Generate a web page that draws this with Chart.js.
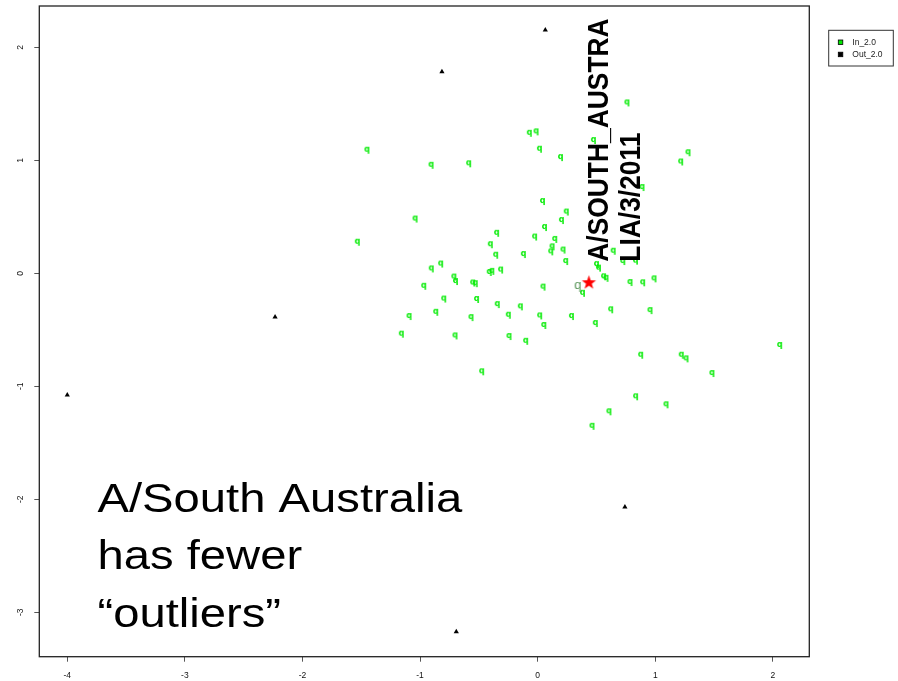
<!DOCTYPE html>
<html>
<head>
<meta charset="utf-8">
<script src="https://cdn.jsdelivr.net/npm/chart.js@4"></script>
<style>
  body { margin: 0; background: #fff; }
  #wrap { width: 898px; height: 681px; position: relative; }
</style>
</head>
<body>
<div id="wrap"><canvas id="grafico"></canvas></div>
<script>
// Pontos "In_2.0" (verdes)
const inX = [-1.452, -0.907, -0.587, -0.071, -0.014, 0.015, 0.194, 0.041, 0.243, 0.202,
  0.058, -0.026, 0.145, 0.122, 0.111, 0.215, 0.238, -1.043, -1.534, -0.349,
  -0.403, -0.357, -0.122, -0.825, -0.905, -0.713, -0.699, -0.969, -0.412, -0.390,
  -0.315, -0.553, -0.531, 0.045, -0.799, -0.520, -0.344, -0.148, -1.094, -0.867,
  -0.567, -0.250, 0.017, 0.052, 0.287, -1.160, -0.703, -0.244, -0.102, -0.476,
  0.381, 0.490, 0.500, 0.517, 0.560, 0.581, 0.785, 0.893, 0.989, 0.724,
  0.832, 0.621, 0.955, 0.876, 1.221, 1.261, 1.482, 2.058, 0.833, 1.091,
  0.606, 0.462, 0.759, 0.474, 1.216, 1.278, 0.887, 0.642];
const inY = [1.085, 0.952, 0.965, 1.235, 1.248, 1.094, 1.020, 0.631, 0.538, 0.463,
  0.401, 0.317, 0.296, 0.230, 0.186, 0.202, 0.100, 0.476, 0.271, 0.350,
  0.249, 0.156, 0.162, 0.078, 0.035, -0.037, -0.077, -0.119, 0.003, 0.013,
  0.025, -0.090, -0.096, -0.126, -0.232, -0.236, -0.281, -0.301, -0.387, -0.349,
  -0.396, -0.375, -0.381, -0.466, -0.387, -0.543, -0.558, -0.564, -0.606, -0.876,
  -0.181, -0.449, 0.073, 0.042, -0.035, -0.048, -0.086, -0.088, -0.053, 0.100,
  0.104, -0.327, -0.334, -0.729, -0.729, -0.761, -0.891, -0.643, -1.097, -1.168,
  -1.230, -1.358, 1.504, 1.171, 0.981, 1.063, 0.755, 0.191];

// Pontos "Out_2.0" (pretos)
const outX = [0.065, -0.814, -2.233, -4.0, 0.742, -0.692];
const outY = [2.153, 1.784, -0.387, -1.077, -2.069, -3.172];

// Cepa de referência (estrela) e ponto destacado
const refX = [0.436];
const refY = [-0.083];
const selX = [0.340];
const selY = [-0.112];

const xTicks = [-4, -3, -2, -1, 0, 1, 2];
const yTicks = [-3, -2, -1, 0, 1, 2];

const legendaNomes = ['In_2.0', 'Out_2.0'];
const legendaCores = ['#00e600', '#000000'];
const rotuloRef = ['A/SOUTH_AUSTRA', 'LIA/3/2011'];
const textoNota = ['A/South Australia', 'has fewer', '\u201Coutliers\u201D'];

const FONTE = '"Liberation Sans", Arial, sans-serif';

function pares(xs, ys) {
    return xs.map((x, i) => ({ x: x, y: ys[i] }));
}

// Glifo "q" usado como marcador
function glifo(ch, font, cor, w, h) {
    const c = document.createElement('canvas');
    c.width = w; c.height = h;
    const g = c.getContext('2d');
    g.font = font;
    g.fillStyle = cor;
    g.textAlign = 'center';
    g.textBaseline = 'middle';
    g.fillText(ch, w / 2, h / 2 - 1);
    return c;
}

function estrela(r, cor) {
    const s = Math.ceil(r * 2) + 2;
    const c = document.createElement('canvas');
    c.width = s; c.height = s;
    const g = c.getContext('2d');
    g.fillStyle = cor;
    g.beginPath();
    for (let i = 0; i < 10; i++) {
        const ang = -Math.PI / 2 + i * Math.PI / 5;
        const rr = i % 2 === 0 ? r : r * 0.4;
        g.lineTo(s / 2 + rr * Math.cos(ang), s / 2 + rr * Math.sin(ang));
    }
    g.closePath();
    g.fill();
    return c;
}

const marcadorIn = glifo('q', 'bold 8px "DejaVu Sans", sans-serif', 'rgb(0,235,0)', 9, 10);
const marcadorSel = glifo('q', '13px ' + FONTE, 'rgb(90,150,90)', 10, 14);
const marcadorRef = estrela(7.5, '#ff0000');

// Caixa do gráfico, rótulos do eixo y, legenda e textos
const extras = {
    id: 'extras',
    afterDatasetsDraw(chart) {
        const ctx = chart.ctx;
        const a = chart.chartArea;
        const sx = chart.scales.x, sy = chart.scales.y;
        ctx.save();

        // caixa
        ctx.strokeStyle = '#222';
        ctx.lineWidth = 1.3;
        ctx.strokeRect(a.left, a.top, a.right - a.left, a.bottom - a.top);

        // rótulos do eixo y (girados, estilo R)
        ctx.fillStyle = '#111';
        ctx.font = '8.5px ' + FONTE;
        ctx.textAlign = 'center';
        ctx.textBaseline = 'middle';
        yTicks.forEach(v => {
            ctx.save();
            ctx.translate(21, sy.getPixelForValue(v));
            ctx.rotate(-Math.PI / 2);
            ctx.fillText(String(v), 0, 0);
            ctx.restore();
        });

        // rótulo rotacionado junto à estrela
        const px = sx.getPixelForValue(refX[0]);
        const py = sy.getPixelForValue(refY[0]);
        ctx.fillStyle = '#000';
        ctx.font = 'bold 26.4px ' + FONTE;
        ctx.textAlign = 'left';
        ctx.textBaseline = 'alphabetic';
        rotuloRef.forEach((linha, i) => {
            ctx.save();
            ctx.translate(px + 19.5 + i * 32, py - 21);
            ctx.scale(1.1, 1);
            ctx.rotate(-Math.PI / 2);
            ctx.fillText(linha, 0, 0);
            ctx.restore();
        });

        // texto grande
        ctx.font = '40px ' + FONTE;
        textoNota.forEach((linha, i) => {
            ctx.save();
            ctx.translate(97.5, 511.7 + i * 57.5);
            ctx.scale(1.18, 1);
            ctx.fillText(linha, 0, 0);
            ctx.restore();
        });

        // legenda
        const lx = 828.7, ly = 30.3;
        ctx.fillStyle = '#fff';
        ctx.fillRect(lx, ly, 64.6, 35.7);
        ctx.strokeStyle = '#333';
        ctx.lineWidth = 1;
        ctx.strokeRect(lx, ly, 64.6, 35.7);
        ctx.font = '8.5px ' + FONTE;
        ctx.textBaseline = 'middle';
        legendaNomes.forEach((nome, i) => {
            const yy = 42.2 + i * 12.2;
            ctx.fillStyle = legendaCores[i];
            ctx.fillRect(838.3, yy - 2.2, 4.5, 4.5);
            ctx.strokeStyle = '#000';
            ctx.lineWidth = 0.8;
            ctx.strokeRect(838.3, yy - 2.2, 4.5, 4.5);
            ctx.fillStyle = '#222';
            ctx.fillText(nome, 852.3, yy + 0.3);
        });
        ctx.restore();
    }
};

const ctx = document.getElementById('grafico').getContext('2d');
new Chart(ctx, {
    type: 'scatter',
    data: {
        datasets: [
            {
                label: legendaNomes[0],
                data: pares(inX, inY),
                pointStyle: marcadorIn,
                order: 4
            },
            {
                label: legendaNomes[1],
                data: pares(outX, outY),
                pointStyle: 'triangle',
                pointRadius: 3,
                backgroundColor: '#000',
                borderColor: '#000',
                borderWidth: 0,
                order: 3
            },
            {
                label: 'sel',
                data: pares(selX, selY),
                pointStyle: marcadorSel,
                order: 2
            },
            {
                label: 'ref',
                data: pares(refX, refY),
                pointStyle: marcadorRef,
                order: 1
            }
        ]
    },
    options: {
        responsive: true,
        maintainAspectRatio: false,
        animation: false,
        events: [],
        layout: { padding: { top: 6, right: 88.7, left: 0, bottom: 0 } },
        plugins: {
            legend: { display: false },
            tooltip: { enabled: false }
        },
        scales: {
            x: {
                type: 'linear',
                position: 'bottom',
                min: -4.238,
                max: 2.31,
                border: { display: false },
                grid: { drawOnChartArea: false, drawTicks: true, tickLength: 5, tickColor: '#555', tickWidth: 1 },
                ticks: { color: '#111', font: { size: 8.5, family: FONTE }, padding: 9, autoSkip: false },
                afterBuildTicks: s => { s.ticks = xTicks.map(v => ({ value: v })); },
                afterFit: s => { s.height = 24.3; }
            },
            y: {
                type: 'linear',
                position: 'left',
                min: -3.393,
                max: 2.366,
                border: { display: false },
                grid: { drawOnChartArea: false, drawTicks: true, tickLength: 5, tickColor: '#555', tickWidth: 1 },
                ticks: { display: false },
                afterBuildTicks: s => { s.ticks = yTicks.map(v => ({ value: v })); },
                afterFit: s => { s.width = 39.3; }
            }
        }
    },
    plugins: [extras]
});
</script>
</body>
</html>
